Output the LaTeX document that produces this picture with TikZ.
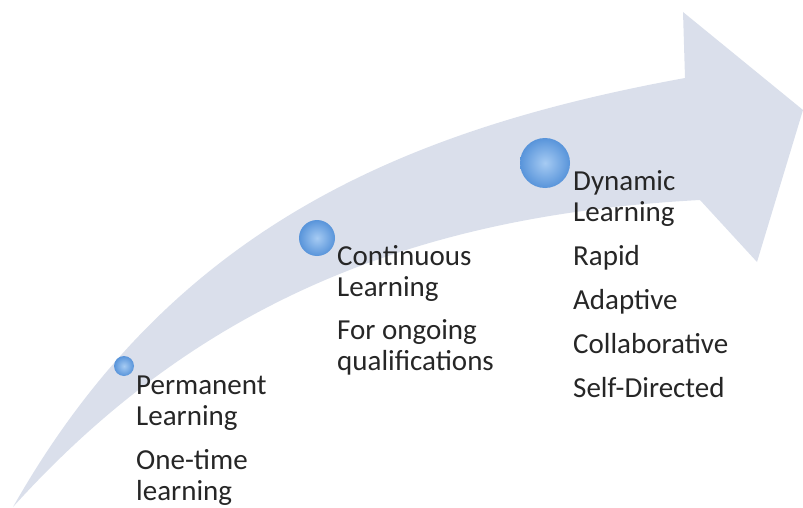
\documentclass[tikz,border=0pt]{standalone}
\usepackage{fontspec}
\setmainfont{Carlito}
\usepackage{xcolor}
\definecolor{arrowfill}{RGB}{218,223,235}
\definecolor{ballin}{RGB}{166,203,243}
\definecolor{ballout}{RGB}{88,148,218}
\definecolor{textgray}{RGB}{38,38,38}

\begin{document}
\begin{tikzpicture}[
    x=1pt, y=-1pt,
    stage/.style={circle, inner sep=0pt, inner color=ballin, outer color=ballout},
    caption/.style={anchor=base west, align=left, inner sep=0pt, text=textgray, font=\fontsize{29}{31}\selectfont}
]
\useasboundingbox (0,0) rectangle (803,508);

% the curved arrow
\fill[arrowfill] (13,507) .. controls (170,230) and (400,130) .. (685,78)
    -- (683,12) -- (803,110) -- (757,262) -- (700,200)
    .. controls (420,215) and (200,300) .. (13,507) -- cycle;

% stages
\node[stage, minimum size=20pt] (permanent) at (124,366) {};
\node[stage, minimum size=36pt] (continuous) at (317,238) {};
\node[stage, minimum size=50pt] (dynamic) at (545,163) {};

% captions (anchored at the last line)
\node[caption] (permanenttext) at (136,500) {Permanent\\Learning\\[13pt]One-time\\learning};
\node[caption] (continuoustext) at (337,370) {Continuous\\Learning\\[12pt]For ongoing\\qualifications};
\node[caption] (dynamictext) at (573,397) {Dynamic\\Learning\\[13pt]Rapid\\[13pt]Adaptive\\[13pt]Collaborative\\[13pt]Self-Directed};
\end{tikzpicture}
\end{document}
